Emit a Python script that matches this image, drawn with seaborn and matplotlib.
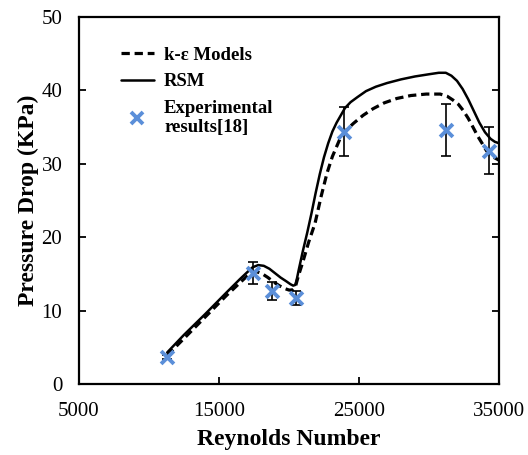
import matplotlib
matplotlib.use("Agg")
import matplotlib.pyplot as plt
import seaborn as sns
import pandas as pd
from matplotlib.lines import Line2D

sns.set_theme(style="white")
plt.rcParams['font.family'] = ['Liberation Serif', 'DejaVu Serif']
plt.rcParams['text.color'] = 'black'
plt.rcParams['axes.labelcolor'] = 'black'
plt.rcParams['xtick.color'] = 'black'
plt.rcParams['ytick.color'] = 'black'

# k-epsilon model curve
ke_re = [11300, 12500, 14000, 15500, 16500, 17000, 17400, 17700, 18100, 18500, 18900,
         19300, 19700, 20000, 20250, 20450, 20650, 21000, 21400, 21860, 22300, 22710,
         23100, 23640, 24100, 24600, 25290, 26000, 26800, 27700, 28700, 29800, 30800,
         31300, 31700, 32100, 32430, 32800, 33140, 33500, 33790, 34100, 34360, 34700, 35000]
ke_p = [3.9, 6.2, 9.1, 12.0, 13.8, 14.7, 15.2, 15.3, 15.0, 14.5, 13.9,
        13.4, 13.0, 12.8, 12.8, 13.2, 14.6, 16.7, 19.3, 21.9, 25.6, 28.7,
        31.0, 33.4, 34.6, 35.5, 36.6, 37.5, 38.3, 38.9, 39.3, 39.5, 39.5,
        39.2, 38.7, 38.1, 37.3, 36.2, 35.0, 33.7, 32.8, 31.8, 31.2, 30.8, 30.5]

# RSM curve
rsm_re = [11300, 12500, 14000, 15500, 16500, 17000, 17400, 17800, 18200, 18600, 19000,
          19400, 19800, 20100, 20300, 20450, 20550, 20700, 21000, 21300, 21600, 21900,
          22200, 22500, 22800, 23100, 23400, 23700, 24000, 24400, 24900, 25500, 26200,
          27000, 28000, 29000, 30000, 30700, 31200, 31600, 32000, 32400, 32800, 33200,
          33600, 34000, 34400, 34700, 35000]
rsm_p = [4.3, 6.7, 9.5, 12.4, 14.3, 15.2, 15.9, 16.2, 16.1, 15.7, 15.1,
         14.5, 14.0, 13.6, 13.4, 13.5, 14.2, 15.6, 18.2, 20.6, 23.2, 26.0,
         28.6, 30.9, 32.8, 34.4, 35.6, 36.6, 37.6, 38.4, 39.1, 39.9, 40.5,
         41.0, 41.5, 41.9, 42.2, 42.4, 42.4, 42.0, 41.3, 40.2, 38.8, 37.2,
         35.6, 34.3, 33.4, 33.0, 32.8]

# Experimental results [18]
exp_re = [11300, 17400, 18800, 20500, 23900, 31200, 34300]
exp_p = [3.7, 15.1, 12.7, 11.7, 34.4, 34.6, 31.8]
exp_err = [0.3, 1.5, 1.2, 1.0, 3.4, 3.5, 3.2]

x_ticks = [5000, 15000, 25000, 35000]
y_ticks = [0, 10, 20, 30, 40, 50]

ke_df = pd.DataFrame({"Re": ke_re, "P": ke_p})
rsm_df = pd.DataFrame({"Re": rsm_re, "P": rsm_p})
exp_df = pd.DataFrame({"Re": exp_re, "P": exp_p, "err": exp_err})

BLUE = "#5B8FD9"
DASH = (0, (2.6, 1.5))

fig = plt.figure(figsize=(5.28, 4.55), dpi=100)
ax = fig.add_axes([79 / 528, (455 - 384) / 455, (499 - 79) / 528, (384 - 17) / 455])

sns.lineplot(data=ke_df, x="Re", y="P", ax=ax, color="black", lw=2.3,
             linestyle=DASH, sort=False, estimator=None)
sns.lineplot(data=rsm_df, x="Re", y="P", ax=ax, color="black", lw=1.8,
             sort=False, estimator=None)
ax.errorbar(exp_df["Re"], exp_df["P"], yerr=exp_df["err"], fmt="none",
            ecolor="black", elinewidth=1.2, capsize=3.5, capthick=1.2, zorder=3)
sns.scatterplot(data=exp_df, x="Re", y="P", ax=ax, marker="x", s=85,
                color=BLUE, linewidth=2.8, zorder=4)

ax.set_xlim(5000, 35000)
ax.set_ylim(0, 50)
ax.set_xticks(x_ticks)
ax.set_yticks(y_ticks)
ax.tick_params(axis="both", which="both", direction="in", length=5, width=1.3,
               labelsize=15, colors="black")
ax.tick_params(axis="y", right=True, left=True, pad=12)
ax.tick_params(axis="x", bottom=True, top=False, pad=13)
for sp in ax.spines.values():
    sp.set_linewidth(1.6)
    sp.set_color("black")

ax.set_xlabel("Reynolds Number", fontsize=17, fontweight="bold", labelpad=6)
ax.set_ylabel("Pressure Drop (KPa)", fontsize=17, fontweight="bold", labelpad=2)

handles = [
    Line2D([0], [0], color="black", lw=2.3, linestyle=DASH),
    Line2D([0], [0], color="black", lw=1.8),
    Line2D([0], [0], color=BLUE, marker="x", lw=0, markersize=8, mew=2.8),
]
labels = ["k-ε Models", "RSM", "Experimental\nresults[18]"]
ax.legend(handles, labels, loc="upper left", bbox_to_anchor=(0.06, 0.965),
          frameon=False, prop={"weight": "bold", "size": 13.5},
          handlelength=1.75, handletextpad=0.55, labelspacing=0.5)

fig.savefig("out.png", dpi=100)
